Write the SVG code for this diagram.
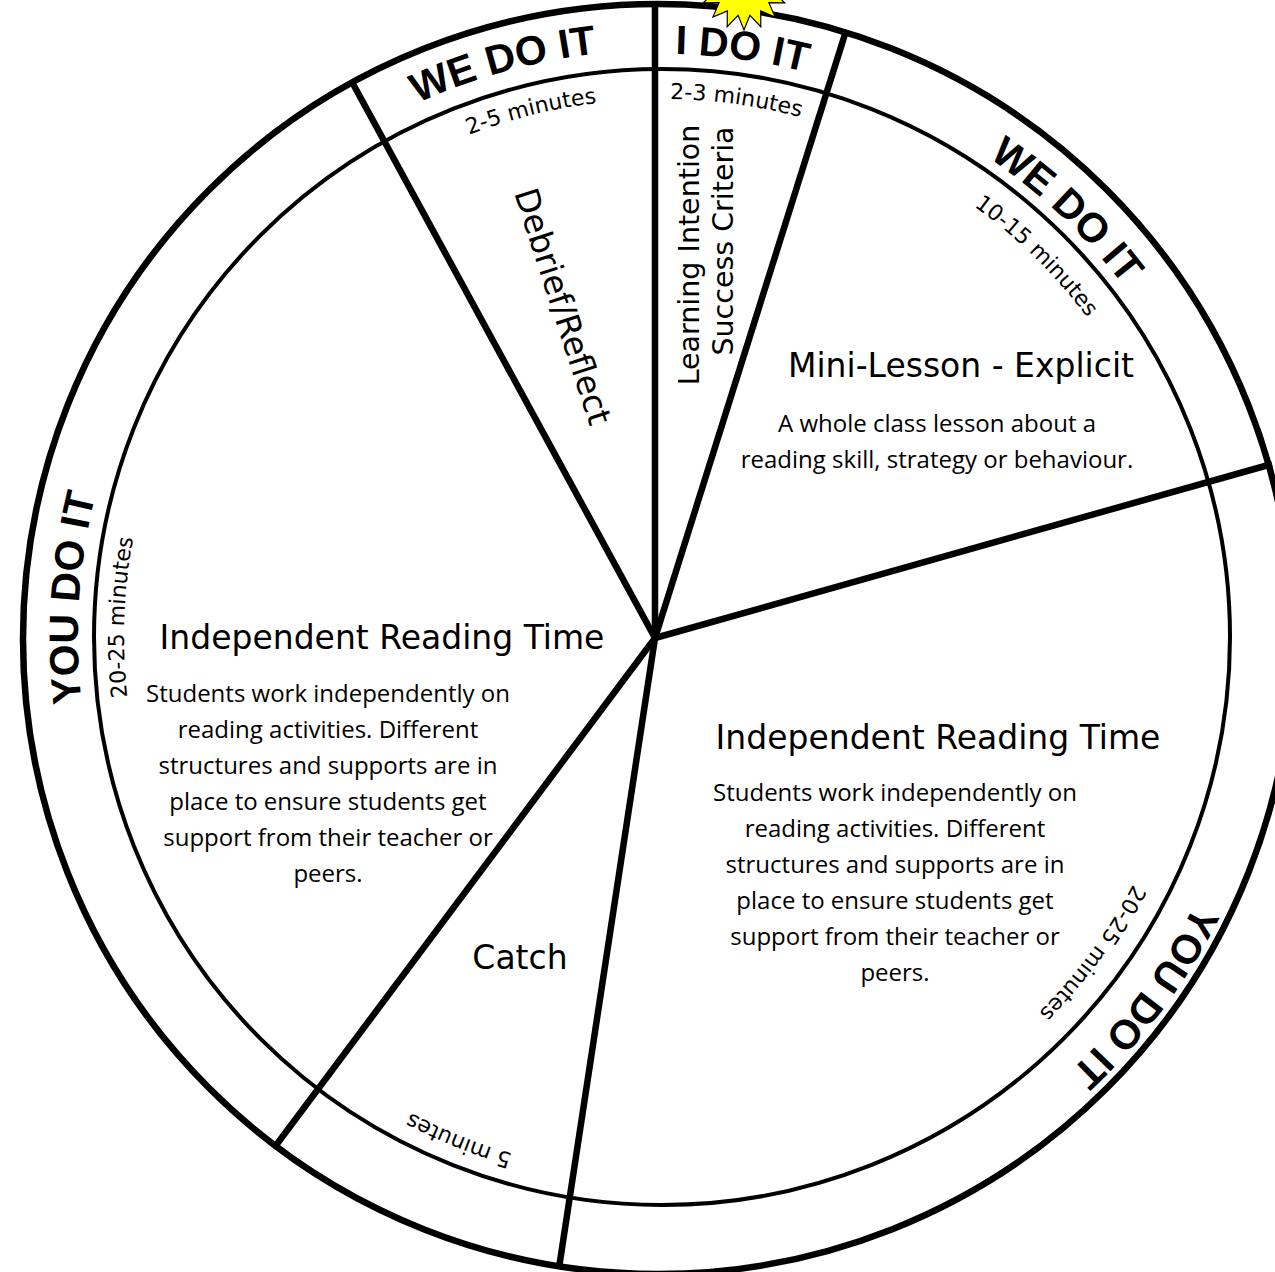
<svg xmlns="http://www.w3.org/2000/svg" width="1275" height="1272" viewBox="0 0 1275 1272">
<style>
.ring{fill:none;stroke:#000}
.spoke{stroke:#000;stroke-width:6.5;stroke-linecap:butt}
.bold{font-family:"Liberation Sans",Arial,sans-serif;font-weight:bold;font-size:41px;fill:#000;text-anchor:middle}
.min{font-family:"DejaVu Sans",sans-serif;font-size:22px;fill:#000;text-anchor:middle}
.head{font-family:"DejaVu Sans",sans-serif;font-size:33px;fill:#000;text-anchor:middle}
.body{font-family:"Open Sans",sans-serif;font-size:24px;fill:#000;text-anchor:middle}
.side{font-family:"DejaVu Sans",sans-serif;font-size:28.5px;fill:#000;text-anchor:middle}
</style>
<defs>
<path id="c587" d="M1249 637A587 587 0 1 1 75 637A587 587 0 1 1 1249 637"/>
<path id="c583" d="M1245 637A583 583 0 1 1 79 637A583 583 0 1 1 1245 637"/>
<path id="c580" d="M1242 637A580 580 0 1 1 82 637A580 580 0 1 1 1242 637"/>
<path id="c584" d="M1246 637A584 584 0 1 1 78 637A584 584 0 1 1 1246 637"/>
<path id="c596" d="M1258 637A596 596 0 1 1 66 637A596 596 0 1 1 1258 637"/>
<path id="c538" d="M1200 637A538 538 0 1 1 124 637A538 538 0 1 1 1200 637"/>
<path id="c532" d="M1194 637A532 532 0 1 1 130 637A532 532 0 1 1 1194 637"/>
</defs>
<rect width="1275" height="1272" fill="#fff"/>

<g id="wheel">
<circle class="ring" cx="658" cy="639" r="635" stroke-width="6.5"/>
<circle class="ring" cx="662" cy="637" r="568" stroke-width="4"/>
</g>

<g id="spokes">
<line class="spoke" x1="655" y1="638" x2="655" y2="2"/>
<line class="spoke" x1="655" y1="638" x2="846" y2="31"/>
<line class="spoke" x1="655" y1="638" x2="1272" y2="464"/>
<line class="spoke" x1="655" y1="638" x2="559" y2="1268"/>
<line class="spoke" x1="655" y1="638" x2="274" y2="1148"/>
<line class="spoke" x1="655" y1="638" x2="352" y2="82"/>
</g>

<g id="star">
<polygon fill="#ffff00" stroke="#000" stroke-width="1.2" points="744,30 738.1,15.4 727.2,26.7 727.3,10.9 712.9,17.1 719.1,2.7 703.3,2.8 714.6,-8.1 700,-14 714.6,-19.9 703.3,-30.8 719.1,-30.7 712.9,-45.1 727.3,-38.9 727.2,-54.7 738.1,-43.4 744,-58 749.9,-43.4 760.8,-54.7 760.7,-38.9 775.1,-45.1 768.9,-30.7 784.7,-30.8 773.4,-19.9 788,-14 773.4,-8.1 784.7,2.8 768.9,2.7 775.1,17.1 760.7,10.9 760.8,26.7 749.9,15.4"/>
</g>

<g id="seg-debrief">
<text class="bold"><textPath href="#c587" startOffset="70.694%">WE DO IT</textPath></text>
<text class="min"><textPath href="#c538" startOffset="71.111%">2-5 minutes</textPath></text>
<text class="head" transform="translate(552,310) rotate(72)">Debrief/Reflect</text>
</g>

<g id="seg-i-do-it">
<text class="bold"><textPath href="#c583" startOffset="77.167%">I DO IT</textPath></text>
<text class="min"><textPath href="#c538" startOffset="77.194%">2-3 minutes</textPath></text>
<text class="side" transform="translate(699,255) rotate(-90)">Learning Intention</text>
<text class="side" transform="translate(733,241) rotate(-90)">Success Criteria</text>
</g>

<g id="seg-mini-lesson">
<text class="bold"><textPath href="#c580" startOffset="87.083%">WE DO IT</textPath></text>
<text class="min"><textPath href="#c532" startOffset="87.361%">10-15 minutes</textPath></text>
<text class="head" x="961" y="377">Mini-Lesson - Explicit</text>
<text class="body" x="937" y="432">A whole class lesson about a<tspan x="937" dy="36">reading skill, strategy or behaviour.</tspan></text>
</g>

<g id="seg-independent-right">
<text class="bold"><textPath href="#c596" startOffset="10.194%">YOU DO IT</textPath></text>
<text class="min"><textPath href="#c532" startOffset="10.083%">20-25 minutes</textPath></text>
<text class="head" x="938" y="749">Independent Reading Time</text>
<text class="body" x="895" y="801">Students work independently on<tspan x="895" dy="36">reading activities. Different</tspan><tspan x="895" dy="36">structures and supports are in</tspan><tspan x="895" dy="36">place to ensure students get</tspan><tspan x="895" dy="36">support from their teacher or</tspan><tspan x="895" dy="36">peers.</tspan></text>
</g>

<g id="seg-catch">
<text class="min"><textPath href="#c538" startOffset="31.111%">5 minutes</textPath></text>
<text class="head" x="520" y="969">Catch</text>
</g>

<g id="seg-independent-left">
<text class="bold"><textPath href="#c584" startOffset="51.056%">YOU DO IT</textPath></text>
<text class="min"><textPath href="#c538" startOffset="50.583%">20-25 minutes</textPath></text>
<text class="head" x="382" y="649">Independent Reading Time</text>
<text class="body" x="328" y="702">Students work independently on<tspan x="328" dy="36">reading activities. Different</tspan><tspan x="328" dy="36">structures and supports are in</tspan><tspan x="328" dy="36">place to ensure students get</tspan><tspan x="328" dy="36">support from their teacher or</tspan><tspan x="328" dy="36">peers.</tspan></text>
</g>
</svg>
